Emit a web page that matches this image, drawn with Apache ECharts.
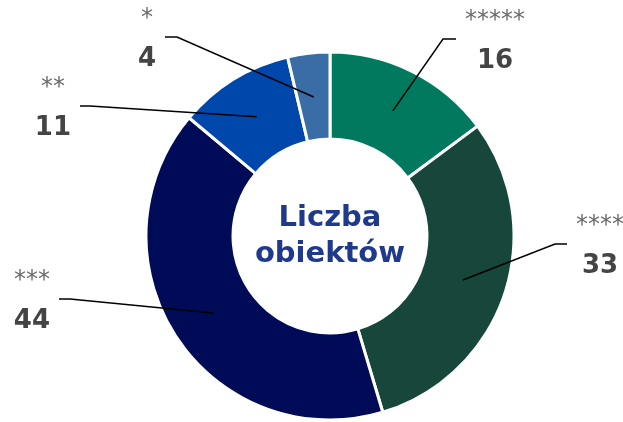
<!DOCTYPE html>
<html>
<head>
<meta charset="utf-8">
<script src="https://cdn.jsdelivr.net/npm/echarts@6/dist/echarts.min.js"></script>
<style>
html, body { margin: 0; padding: 0; background: #fff; }
#chart { width: 623px; height: 422px; }
</style>
</head>
<body>
<div id="chart"></div>
<script>
var stars = ['*****', '****', '***', '**', '*'];
var counts = [16, 33, 44, 11, 4];
var colors = ['#00795E', '#17463A', '#000B57', '#0047AB', '#3A6DA6'];

// pie geometry (px)
var cx = 330, cy = 236, rIn = 97, rOut = 184, rLine = 140;
// leader line bend point relative to the centre + length of the flat end
var bends = [[113, -197, 13], [225, 8, 12], [-260, 63, 11], [-240, -130, 10], [-153, -199, 12]];

var total = counts.reduce(function (a, b) { return a + b; }, 0);

function midAngle(i) {
    var before = 0;
    for (var k = 0; k < i; k++) before += counts[k];
    var deg = 90 - (before + counts[i] / 2) / total * 360;
    return deg * Math.PI / 180;
}

var myChart = echarts.init(document.getElementById('chart'));
var option = {
    animation: false,
    graphic: [{
        type: 'text',
        x: cx,
        y: cy,
        style: {
            text: 'Liczba\nobiektów',
            fill: '#1F3A8C',
            font: 'bold 29px "DejaVu Sans"',
            lineHeight: 36,
            align: 'center',
            verticalAlign: 'middle'
        }
    }],
    series: [{
        // the rings
        type: 'pie',
        z: 2,
        center: [cx, cy],
        radius: [rIn, rOut],
        startAngle: 90,
        clockwise: true,
        emphasis: { disabled: true },
        itemStyle: { borderColor: '#fff', borderWidth: 3 },
        label: { show: false },
        labelLine: { show: false },
        data: counts.map(function (v, i) {
            return { value: v, name: stars[i], itemStyle: { color: colors[i] } };
        })
    }, {
        // same slices, invisible, only to carry labels + leader lines on top
        type: 'pie',
        z: 5,
        silent: true,
        center: [cx, cy],
        radius: [rIn, rOut],
        startAngle: 90,
        clockwise: true,
        emphasis: { disabled: true },
        itemStyle: { color: 'rgba(0,0,0,0)' },
        label: {
            show: true,
            position: 'outside',
            formatter: function (p) {
                return '{s|' + stars[p.dataIndex] + '}\n{n|' + p.value + '}';
            },
            rich: {
                s: { fontFamily: 'DejaVu Sans', fontSize: 24, color: '#6B6B6B', lineHeight: 40, align: 'center' },
                n: { fontFamily: 'DejaVu Sans', fontWeight: 'bold', fontSize: 26, color: '#444', lineHeight: 40, align: 'center' }
            }
        },
        labelLine: {
            show: true,
            lineStyle: { color: '#000', width: 1.5 }
        },
        labelLayout: function (params) {
            var i = params.dataIndex;
            var a = midAngle(i);
            var b = bends[i];
            var sx = cx + rLine * Math.cos(a), sy = cy - rLine * Math.sin(a);
            var bx = cx + b[0], by = cy + b[1];
            var right = b[0] > 0;
            var ex = right ? bx + b[2] : bx - b[2];
            return {
                x: right ? ex + 9 : ex - 9,
                y: by + 2,
                align: right ? 'left' : 'right',
                verticalAlign: 'middle',
                labelLinePoints: [[sx, sy], [bx, by], [ex, by]]
            };
        },
        data: counts.map(function (v, i) {
            return { value: v, name: stars[i] };
        })
    }]
};
myChart.setOption(option);
</script>
</body>
</html>
